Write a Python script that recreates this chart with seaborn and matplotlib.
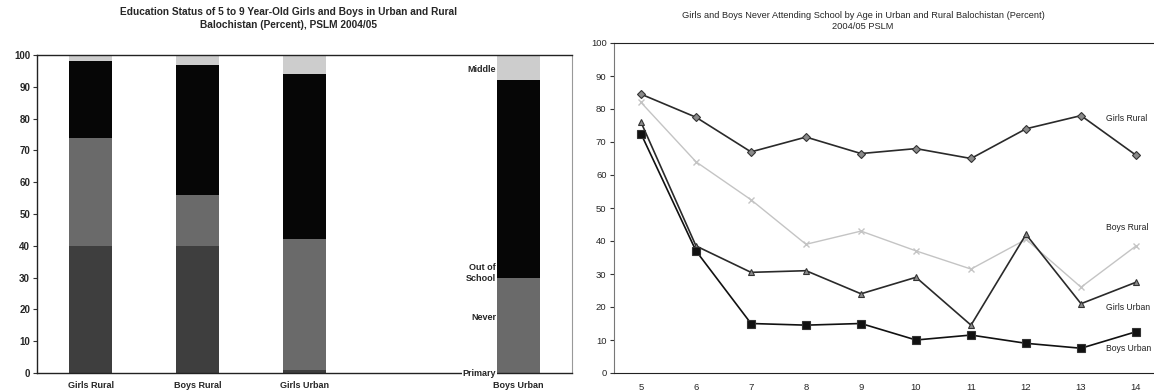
import matplotlib
matplotlib.use("Agg")
import matplotlib.pyplot as plt
import seaborn as sns
import pandas as pd
import numpy as np

# ---- left chart: education status, 5-9 year olds ----
groups = ["Girls Rural", "Boys Rural", "Girls Urban", " ", "Boys Urban"]
primary = [40, 40, 1, 0, 0]
never = [34, 16, 41, 0, 30]
out_school = [24, 41, 52, 0, 62]
middle = [2, 3, 6, 0, 8]

# ---- right chart: never attending by age ----
ages = [5, 6, 7, 8, 9, 10, 11, 12, 13, 14]
girls_rural = [84.5, 77.5, 67, 71.5, 66.5, 68, 65, 74, 78, 66]
boys_rural = [82, 64, 52.5, 39, 43, 37, 31.5, 40.5, 26, 38.5]
girls_urban = [76, 38.5, 30.5, 31, 24, 29, 14.5, 42, 21, 27.5]
boys_urban = [72.5, 37, 15, 14.5, 15, 10, 11.5, 9, 7.5, 12.5]

sns.set_style("white")
plt.rcParams["font.family"] = ["Liberation Sans", "DejaVu Sans"]

fig = plt.figure(figsize=(11.54, 3.92), dpi=100)
W, H = 1154, 392

def px_axes(x0, x1, ytop, ybot):
    return fig.add_axes([x0 / W, 1 - ybot / H, (x1 - x0) / W, (ybot - ytop) / H])

# ------------------- left -------------------
ax1 = px_axes(37, 572, 55, 373)
df = pd.DataFrame({"group": groups, "primary": primary, "never": never,
                   "out": out_school, "middle": middle})
df["c1"] = df["primary"]
df["c2"] = df["c1"] + df["never"]
df["c3"] = df["c2"] + df["out"]
df["c4"] = df["c3"] + df["middle"]

# stacked look: draw cumulative totals from the top down
seg_colors = {"c4": "#cdcdcd", "c3": "#060606", "c2": "#6a6a6a", "c1": "#3e3e3e"}
for col in ["c4", "c3", "c2", "c1"]:
    sns.barplot(data=df, x="group", y=col, order=groups, color=seg_colors[col],
                width=0.4, linewidth=0, saturation=1, ax=ax1)

ax1.set_ylim(0, 100)
ax1.set_xlim(-0.5, 4.5)
ax1.set_yticks(range(0, 101, 10))
ax1.set_xlabel("")
ax1.set_ylabel("")
ax1.set_xticks(np.arange(-0.5, 5, 1), minor=True)
ax1.tick_params(axis="x", which="major", length=0, pad=6)
ax1.tick_params(axis="x", which="minor", length=3, color="#333333", direction="in")
ax1.tick_params(axis="y", length=3, color="#333333", pad=2, left=True)
for lbl in ax1.get_xticklabels():
    lbl.set_fontsize(6.5)
    lbl.set_fontweight("bold")
for lbl in ax1.get_yticklabels():
    lbl.set_fontsize(7)
    lbl.set_fontweight("bold")
for s in ["left", "bottom", "top"]:
    ax1.spines[s].set_color("#222222")
    ax1.spines[s].set_linewidth(1.0)
ax1.spines["right"].set_color("#999999")
ax1.spines["right"].set_linestyle((0, (1, 1)))
ax1.spines["right"].set_linewidth(0.8)

seg_labels = [("Middle", 95.5), ("Out of\nSchool", 31.5), ("Never", 17.5), ("Primary", 0)]
for txt, yv in seg_labels:
    ax1.text(3.79, yv, txt, ha="right", va="center", fontsize=6.5,
             fontweight="bold", linespacing=1.3, clip_on=False,
             bbox=dict(facecolor="white", edgecolor="none", pad=0.5) if txt == "Primary" else None)

fig.text(288 / W, 1 - 7 / H, "Education Status of 5 to 9 Year-Old Girls and Boys in Urban and Rural\n"
         "Balochistan (Percent), PSLM 2004/05", ha="center", va="top",
         fontsize=7.3, fontweight="bold", linespacing=1.35)

# ------------------- right -------------------
ax2 = px_axes(613.5, 1163.5, 43, 373)
series = [
    ("Girls Rural", girls_rural, "#2a2a2a", "D", "#8a8a8a", 4),
    ("Boys Rural", boys_rural, "#c4c4c4", "x", "#c4c4c4", 5),
    ("Girls Urban", girls_urban, "#2a2a2a", "^", "#8a8a8a", 4.5),
    ("Boys Urban", boys_urban, "#111111", "s", "#111111", 5.5),
]
for name, vals, lc, mk, mfc, ms in series:
    sns.lineplot(x=ages, y=vals, color=lc, marker=mk, markersize=ms,
                 markerfacecolor=mfc, markeredgecolor="#333333" if mk != "x" else lc,
                 markeredgewidth=0.8 if mk != "x" else 1.0,
                 linewidth=1.2 if mk != "x" else 1.0, ax=ax2)

end_labels = [("Girls Rural", 77), ("Boys Rural", 44), ("Girls Urban", 19.7), ("Boys Urban", 7.3)]
for txt, yv in end_labels:
    ax2.text(13.45, yv, txt, ha="left", va="center", fontsize=6.2, color="#222222")

ax2.set_xlim(4.5, 14.5)
ax2.set_ylim(0, 100)
ax2.set_xticks(ages)
ax2.set_xticklabels([str(a) for a in ages])
ax2.set_yticks(range(0, 101, 10))
ax2.set_xticks(np.arange(4.5, 15, 1), minor=True)
ax2.tick_params(axis="x", which="major", length=0, pad=7, labelsize=6.8)
ax2.tick_params(axis="x", which="minor", length=3, color="#333333")
ax2.tick_params(axis="y", length=3, color="#333333", pad=2, labelsize=6.8, left=True)
ax2.spines["top"].set_color("#222222")
ax2.spines["bottom"].set_color("#222222")
ax2.spines["left"].set_color("#777777")
ax2.spines["left"].set_linestyle((0, (1, 1)))
ax2.spines["right"].set_visible(False)

fig.text(863 / W, 1 - 11 / H, "Girls and Boys Never Attending School by Age in Urban and Rural Balochistan (Percent)\n"
         "2004/05 PSLM", ha="center", va="top", fontsize=6.7, linespacing=1.25)

fig.savefig("out.png", dpi=100)
